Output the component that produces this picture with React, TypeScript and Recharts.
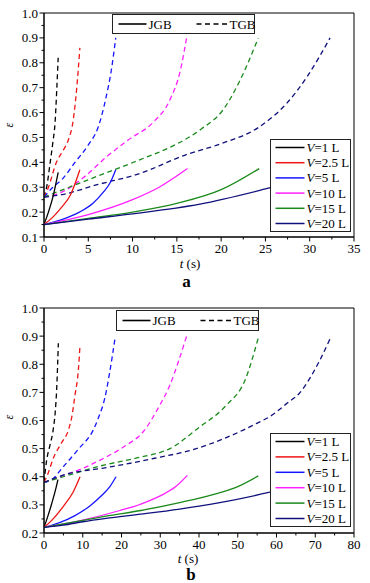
import React from 'react';
import { LineChart, Line, XAxis, YAxis, ReferenceArea } from 'recharts';

type Pt = [number, number];

const FONT = "'Liberation Serif', 'Times New Roman', 'DejaVu Serif', serif";

const volumes = ['1', '2.5', '5', '10', '15', '20'];
const colors = ['#000000', '#ee1515', '#1515ff', '#ff20ff', '#1a8a1a', '#10107c'];

// panel a: JGB (solid)
const aJgb1: Pt[] = [[0, 0.15], [0.5, 0.2], [1, 0.26], [1.6, 0.36]];
const aJgb25: Pt[] = [[0, 0.15], [1, 0.18], [2, 0.22], [3, 0.27], [4.05, 0.37]];
const aJgb5: Pt[] = [[0, 0.15], [2, 0.17], [4, 0.2], [5.5, 0.235], [6.7, 0.28], [7.5, 0.32], [8.1, 0.37]];
const aJgb10: Pt[] = [[0, 0.15], [5, 0.19], [10, 0.25], [13, 0.3], [16.2, 0.375]];
const aJgb15: Pt[] = [[0, 0.15], [5, 0.175], [10, 0.2], [15, 0.235], [20, 0.29], [24.3, 0.375]];
const aJgb20: Pt[] = [[0, 0.15], [5, 0.172], [10, 0.193], [17.6, 0.232], [25, 0.293], [29, 0.33], [32, 0.37]];

// panel a: TGB (dashed)
const aTgb1: Pt[] = [[0, 0.26], [0.3, 0.3], [0.7, 0.4], [1.0, 0.48], [1.25, 0.56], [1.45, 0.7], [1.6, 0.82]];
const aTgb25: Pt[] = [[0, 0.26], [0.5, 0.3], [1.4, 0.4], [2.2, 0.45], [2.75, 0.49], [3.3, 0.57], [3.7, 0.7], [4.05, 0.86]];
const aTgb5: Pt[] = [[0, 0.26], [1, 0.3], [2, 0.33], [3.5, 0.4], [5, 0.47], [6.1, 0.54], [7, 0.66], [7.6, 0.77], [8.1, 0.9]];
const aTgb10: Pt[] = [[0, 0.26], [2, 0.28], [4.5, 0.34], [7, 0.42], [9.5, 0.49], [12.3, 0.56], [14.2, 0.65], [15.4, 0.77], [16.1, 0.9]];
const aTgb15: Pt[] = [[0, 0.26], [1.4, 0.28], [5, 0.33], [10.8, 0.41], [14.5, 0.465], [17.8, 0.535], [20.2, 0.61], [22, 0.72], [24.2, 0.9]];
const aTgb20: Pt[] = [[0, 0.26], [2, 0.27], [6, 0.31], [10.8, 0.355], [16, 0.43], [20, 0.475], [24.2, 0.54], [27.4, 0.637], [29.7, 0.744], [32.3, 0.9]];

// panel b: JGB (solid)
const bJgb1: Pt[] = [[0, 0.22], [1, 0.26], [2, 0.305], [3, 0.355], [3.6, 0.39]];
const bJgb25: Pt[] = [[0, 0.22], [2, 0.245], [5, 0.295], [7.5, 0.345], [9.3, 0.4]];
const bJgb5: Pt[] = [[0, 0.22], [4, 0.237], [8, 0.262], [12, 0.298], [15, 0.335], [17, 0.365], [18.6, 0.4]];
const bJgb10: Pt[] = [[0, 0.22], [5, 0.232], [10, 0.246], [19.6, 0.28], [25, 0.303], [30, 0.332], [34, 0.365], [37, 0.405]];
const bJgb15: Pt[] = [[0, 0.22], [5, 0.232], [10, 0.245], [16, 0.26], [25, 0.28], [35, 0.308], [45, 0.342], [50, 0.365], [55.3, 0.403]];
const bJgb20: Pt[] = [[0, 0.22], [5, 0.228], [10, 0.24], [16, 0.252], [25, 0.267], [35, 0.285], [45, 0.307], [58.3, 0.345], [66, 0.37], [73.5, 0.4]];

// panel b: TGB (dashed)
const bTgb1: Pt[] = [[0, 0.38], [0.7, 0.46], [1.5, 0.51], [2.4, 0.57], [2.9, 0.63], [3.3, 0.72], [3.7, 0.875]];
const bTgb25: Pt[] = [[0, 0.38], [1, 0.41], [2.4, 0.466], [4.5, 0.52], [6.3, 0.566], [7.1, 0.608], [8, 0.69], [8.9, 0.785], [9.3, 0.87]];
const bTgb5: Pt[] = [[0, 0.38], [2, 0.39], [5, 0.436], [9, 0.5], [12.7, 0.566], [14, 0.608], [15.7, 0.68], [17, 0.775], [18.3, 0.89]];
const bTgb10: Pt[] = [[0, 0.38], [4, 0.4], [10, 0.43], [16, 0.47], [21, 0.51], [25.6, 0.56], [29.9, 0.655], [32.5, 0.726], [34.7, 0.81], [36.8, 0.9]];
const bTgb15: Pt[] = [[0, 0.38], [5, 0.4], [15, 0.44], [25, 0.47], [32.5, 0.5], [40, 0.575], [47.1, 0.655], [51.9, 0.744], [55.3, 0.894]];
const bTgb20: Pt[] = [[0, 0.38], [6, 0.41], [15, 0.43], [23, 0.45], [30, 0.47], [36.8, 0.49], [46.3, 0.535], [51.4, 0.566], [54.9, 0.59], [58.3, 0.614], [62.6, 0.66], [66.1, 0.7], [68.6, 0.75], [71.2, 0.815], [73.8, 0.89]];

const aTimeTicks = [0, 2.5, 5, 7.5, 10, 12.5, 15, 17.5, 20, 22.5, 25, 27.5, 30, 32.5, 35];
const aEpsTicks = [0.1, 0.15, 0.2, 0.25, 0.3, 0.35, 0.4, 0.45, 0.5, 0.55, 0.6, 0.65, 0.7, 0.75, 0.8, 0.85, 0.9, 0.95, 1.0];
const bTimeTicks = [0, 5, 10, 15, 20, 25, 30, 35, 40, 45, 50, 55, 60, 65, 70, 75, 80];
const bEpsTicks = [0.2, 0.25, 0.3, 0.35, 0.4, 0.45, 0.5, 0.55, 0.6, 0.65, 0.7, 0.75, 0.8, 0.85, 0.9, 0.95, 1.0];

const toRows = (pts: Pt[]) => pts.map(([t, e]) => ({ t, e }));

const PLOT_LEFT = 44;
const txt = { fontFamily: FONT };

function makeXTick(axisY: number, major: number) {
  return (props: any) => {
    const { x, payload } = props;
    const v = payload.value;
    const isMajor = Math.abs(v / major - Math.round(v / major)) < 1e-6;
    return (
      <g>
        <line x1={x} x2={x} y1={axisY} y2={axisY + (isMajor ? 4.5 : 2.5)} stroke="#000" strokeWidth={1} />
        {isMajor && (
          <text x={x} y={axisY + 16} textAnchor="middle" style={txt} fontSize={13} fill="#000">{v}</text>
        )}
      </g>
    );
  };
}

function YTick(props: any) {
  const { y, payload } = props;
  const v = payload.value;
  const isMajor = Math.round(v * 100) % 10 === 0;
  return (
    <g>
      <line x1={PLOT_LEFT - (isMajor ? 4.5 : 2.5)} x2={PLOT_LEFT} y1={y} y2={y} stroke="#000" strokeWidth={1} />
      {isMajor && (
        <text x={PLOT_LEFT - 6} y={y} dy="0.35em" textAnchor="end" style={txt} fontSize={13} fill="#000">{v.toFixed(1)}</text>
      )}
    </g>
  );
}

interface PanelProps {
  jgb: Pt[][];
  tgb: Pt[][];
  xMax: number;
  xTicks: number[];
  xMajor: number;
  yMin: number;
  yTicks: number[];
  height: number;
  marginTop: number;
  marginBottom: number;
  axisY: number;
  box1: { x: number; y: number; w: number; h: number };
  box2: { x: number; y: number; w: number; h: number };
  epsY: number;
  tLabelX: number;
  tLabelY: number;
  letter: string;
  letterX: number;
  letterY: number;
}

function Panel(p: PanelProps) {
  const rowGap = (p.box2.h - 16) / 5;
  const midY = p.box1.y + p.box1.h / 2;
  return (
    <div style={{ position: 'relative', width: 370, height: p.height }}>
      <LineChart width={370} height={p.height} margin={{ top: p.marginTop, right: 16, bottom: p.marginBottom, left: 0 }}>
        <XAxis
          dataKey="t"
          type="number"
          domain={[0, p.xMax]}
          ticks={p.xTicks}
          interval={0}
          height={25}
          tickLine={false}
          axisLine={{ stroke: '#000' }}
          tick={makeXTick(p.axisY, p.xMajor)}
          allowDataOverflow
        />
        <YAxis
          type="number"
          domain={[p.yMin, 1]}
          ticks={p.yTicks}
          interval={0}
          width={PLOT_LEFT}
          tickLine={false}
          axisLine={{ stroke: '#000' }}
          tick={YTick}
          allowDataOverflow
        />
        <ReferenceArea x1={0} x2={p.xMax} y1={p.yMin} y2={1} fill="none" stroke="#000" strokeWidth={1} />
        {p.tgb.map((pts, i) => (
          <Line
            key={'t' + i}
            data={toRows(pts)}
            dataKey="e"
            type="monotone"
            stroke={colors[i]}
            strokeWidth={1.3}
            strokeDasharray="5 3.5"
            dot={false}
            isAnimationActive={false}
          />
        ))}
        {p.jgb.map((pts, i) => (
          <Line
            key={'j' + i}
            data={toRows(pts)}
            dataKey="e"
            type="monotone"
            stroke={colors[i]}
            strokeWidth={1.3}
            dot={false}
            isAnimationActive={false}
          />
        ))}
      </LineChart>
      <svg width={370} height={p.height} style={{ position: 'absolute', left: 0, top: 0, pointerEvents: 'none', fontFamily: FONT }}>
        <g style={txt} fill="#000">
          <rect x={p.box1.x} y={p.box1.y} width={p.box1.w} height={p.box1.h} fill="#fff" stroke="#222" strokeWidth={1} />
          <line x1={p.box1.x + 6} x2={p.box1.x + 34} y1={midY} y2={midY} stroke="#000" strokeWidth={1.6} />
          <text x={p.box1.x + 36} y={midY + 4.5} fontSize={13}>JGB</text>
          <line x1={p.box1.x + 84} x2={p.box1.x + 116} y1={midY} y2={midY} stroke="#000" strokeWidth={1.6} strokeDasharray="5 3.5" />
          <text x={p.box1.x + 117} y={midY + 4.5} fontSize={13}>TGB</text>

          <rect x={p.box2.x} y={p.box2.y} width={p.box2.w} height={p.box2.h} fill="#fff" stroke="#222" strokeWidth={1} />
          {volumes.map((v, i) => {
            const ry = p.box2.y + 8 + i * rowGap;
            return (
              <g key={v}>
                <line x1={p.box2.x + 5} x2={p.box2.x + 34} y1={ry} y2={ry} stroke={colors[i]} strokeWidth={1.5} />
                <text x={p.box2.x + 36} y={ry + 4.5} fontSize={13}>
                  <tspan fontStyle="italic">V</tspan>={v} L
                </text>
              </g>
            );
          })}

          <text x={13} y={p.epsY} fontSize={12} fontStyle="italic" textAnchor="middle" transform={`rotate(-90 13 ${p.epsY})`}>ε</text>
          <text x={p.tLabelX} y={p.tLabelY} fontSize={13} textAnchor="middle">
            <tspan fontStyle="italic">t</tspan> (s)
          </text>
          <text x={p.letterX} y={p.letterY} fontSize={17} fontWeight="bold" textAnchor="middle">{p.letter}</text>
        </g>
      </svg>
    </div>
  );
}

export default function App() {
  return (
    <div style={{ position: 'absolute', left: 0, top: 0, width: 370, height: 583, background: '#fff', fontFamily: FONT }}>
      <Panel
        jgb={[aJgb1, aJgb25, aJgb5, aJgb10, aJgb15, aJgb20]}
        tgb={[aTgb1, aTgb25, aTgb5, aTgb10, aTgb15, aTgb20]}
        xMax={35}
        xTicks={aTimeTicks}
        xMajor={5}
        yMin={0.1}
        yTicks={aEpsTicks}
        height={291}
        marginTop={13}
        marginBottom={29}
        axisY={237}
        box1={{ x: 112.5, y: 14.5, w: 142, h: 19 }}
        box2={{ x: 270.5, y: 139.5, w: 80, h: 92 }}
        epsY={125}
        tLabelX={190}
        tLabelY={268}
        letter="a"
        letterX={186.5}
        letterY={287}
      />
      <Panel
        jgb={[bJgb1, bJgb25, bJgb5, bJgb10, bJgb15, bJgb20]}
        tgb={[bTgb1, bTgb25, bTgb5, bTgb10, bTgb15, bTgb20]}
        xMax={80}
        xTicks={bTimeTicks}
        xMajor={10}
        yMin={0.2}
        yTicks={bEpsTicks}
        height={292}
        marginTop={17}
        marginBottom={25}
        axisY={242}
        box1={{ x: 116.5, y: 19.5, w: 142, h: 20 }}
        box2={{ x: 270.5, y: 142.5, w: 80, h: 93 }}
        epsY={126}
        tLabelX={188}
        tLabelY={272}
        letter="b"
        letterX={191}
        letterY={289}
      />
    </div>
  );
}
